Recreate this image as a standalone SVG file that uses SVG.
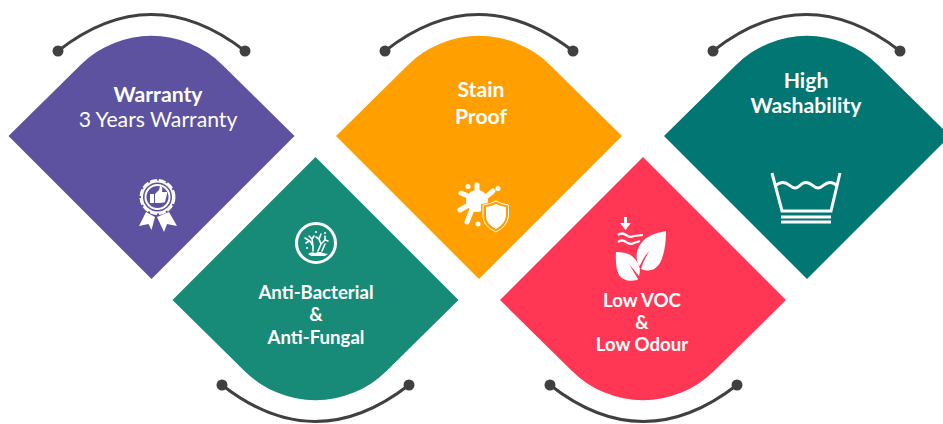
<svg xmlns="http://www.w3.org/2000/svg" xmlns:xlink="http://www.w3.org/1999/xlink" width="943" height="424" viewBox="0 0 943 424">
<style>
text{font-family:Lato,"Open Sans",sans-serif;fill:#fff;text-anchor:middle;font-size:21.200px}
.b{font-weight:700}
.s{font-size:18.600px;font-weight:700}
.arc{fill:none;stroke:#404040;stroke-width:3}
.dot{fill:#404040}
.ln{fill:none;stroke:#fff;stroke-width:3}
.w{fill:#fff}
.sp{fill:none;stroke:#fff;stroke-linecap:round}
</style>
<defs>
<path id="up" d="M-143 0L-71 -71A101 101 0 0 1 71 -71L143 0L0 143Z"/>
<path id="down" d="M-143 0L-71 71A101 101 0 0 0 71 71L143 0L0 -143Z"/>
</defs>
<g id="connectors">
<path class="arc" d="M58 51Q151 -22 245 51"/><circle class="dot" cx="58" cy="51" r="5.500"/><circle class="dot" cx="245" cy="51" r="5.500"/>
<path class="arc" d="M385 51Q478 -22 573 51"/><circle class="dot" cx="385" cy="51" r="5.500"/><circle class="dot" cx="573" cy="51" r="5.500"/>
<path class="arc" d="M713 51Q806 -22 900 51"/><circle class="dot" cx="713" cy="51" r="5.500"/><circle class="dot" cx="900" cy="51" r="5.500"/>
<path class="arc" d="M222 385Q315 458 409 385"/><circle class="dot" cx="222" cy="385" r="5.500"/><circle class="dot" cx="409" cy="385" r="5.500"/>
<path class="arc" d="M550 385Q643 458 737 385"/><circle class="dot" cx="550" cy="385" r="5.500"/><circle class="dot" cx="737" cy="385" r="5.500"/>
</g>
<g id="warranty">
<use xlink:href="#up" href="#up" x="151.500" y="136" fill="#5c52a0"/>
<text class="b" x="158" y="102">Warranty</text>
<text x="158" y="127">3 Years Warranty</text>
<circle cx="157.500" cy="197" r="17" fill="none" stroke="#fff" stroke-width="2" stroke-dasharray="7 2"/>
<circle cx="157.500" cy="197" r="16.500" class="w"/><circle cx="157.500" cy="197" r="14.500" fill="#5c52a0"/><circle cx="157.500" cy="197" r="13" class="w"/><circle cx="157.500" cy="197" r="11" fill="#5c52a0"/>
<path class="w" d="M150 194h4v9h-4zM155 194l4-4 1-4q3 0 2 6h5v2l-2 8q-1 1-10 1z"/>
<path class="w" d="M146 212l9 5-3.500 13-3-6-9.500 2zM169 212l-12 5 7 15 3-8 10 2z"/>
</g>
<g id="anti-bacterial">
<use xlink:href="#down" href="#down" x="315.500" y="300" fill="#178a78"/>
<circle cx="316" cy="243" r="19.500" fill="none" stroke="#fff" stroke-width="3"/>
<path d="M305 238l5 3 3 5 0 5M313 246l-1-7-3-3M309 241l-3 2M312 239l2-3M321 234l-2 5 2 5-3 7M319 239l-3-2M321 244l4-4 0-4M325 240l3 1M325 244l-3 7" fill="none" stroke="#fff" stroke-width="1.600" stroke-linecap="round"/>
<circle class="w" cx="325" cy="233" r="1"/><circle class="w" cx="307" cy="248" r="1"/><circle class="w" cx="316" cy="232" r="1"/>
<path class="w" d="M308 254q4-3 7-1 5-2 8 0l5 1q-2 1-3 2h-14z"/>
<text class="s" x="316" y="299">Anti-Bacterial</text>
<text class="s" x="316" y="321">&amp;</text>
<text class="s" x="316" y="344">Anti-Fungal</text>
</g>
<g id="stain-proof">
<use xlink:href="#up" href="#up" x="479" y="136" fill="#ff9f00"/>
<text class="b" x="481" y="97">Stain</text>
<text class="b" x="481" y="124">Proof</text>
<circle class="w" cx="468" cy="186.500" r="2.500"/><circle class="w" cx="498" cy="188.500" r="2.500"/><circle class="w" cx="478" cy="224" r="2.500"/>
<circle class="w" cx="477" cy="201" r="11"/>
<path class="sp" stroke-width="5" d="M477 185l0 12M461 193l14 6M460 210l14-8M467 222l6-15M493 191l-12 10"/>
<path d="M481 204q9-1 15-5 6 4 14 5v12q-1 11-14 18-14-7-15-18z" fill="#ff9f00"/>
<path d="M483 205q8-1 13-4 5 3 12.500 4v11q-1 10-12.500 16-13-6-13-16z" fill="none" stroke="#fff"/>
<path class="w" d="M486 207q6-1 10-3 4 2 10 3v9q-1 8-10 13-10-5-10-13z"/>
</g>
<g id="low-voc">
<use xlink:href="#down" href="#down" x="643" y="300" fill="#ff3755"/>
<path class="w" d="M624 217h3v6h4l-5.500 7-5.500-7h4z"/>
<path d="M618 235q4-3 8 0t8 1l9-1M618 242q4-3 8 0t8 1l6-2" fill="none" stroke="#fff" stroke-width="2.200"/>
<path class="w" d="M666 231q-17 3-23 10-8 9-6 19l2 7 6-11 4-5-6 12-2 6q12 5 19-6 6-12 6-32zM616 252q14 0 19 7 5 6 5 12l-1 5-10-12 9 15-1 1q-12 3-18-5-4-8-3-23z"/>
<text class="s" x="642" y="307">Low VOC</text>
<text class="s" x="642" y="329">&amp;</text>
<text class="s" x="642" y="351">Low Odour</text>
</g>
<g id="high-washability">
<use xlink:href="#up" href="#up" x="807" y="136" fill="#017673"/>
<text class="b" x="806" y="88">High</text>
<text class="b" x="806" y="113">Washability</text>
<path class="ln" d="M772 173l10 38h49l9-38M775 186Q779 182.500 783 182.500C789 182.500 790 188 795 188S800 182.500 806 182.500 813 188 818 188 824 182.500 830 182.500Q834 182.500 837 186M781 217h50M781 222h50"/>
</g>
</svg>
